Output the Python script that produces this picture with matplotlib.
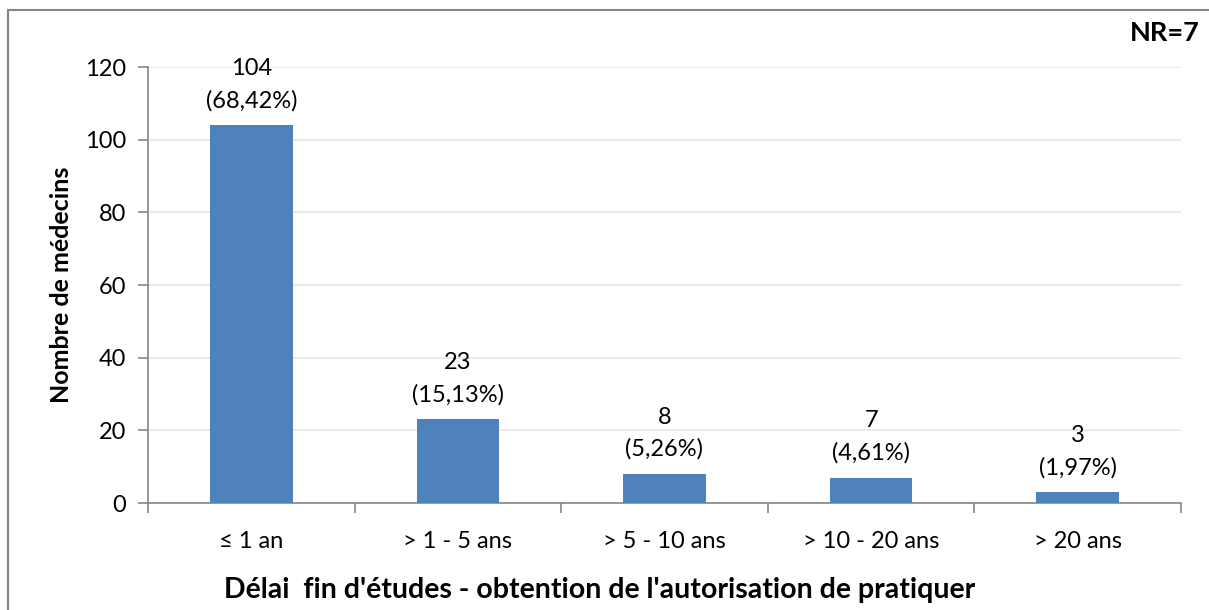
import matplotlib
matplotlib.use("Agg")
import matplotlib.pyplot as plt
from matplotlib.patches import Rectangle

categories = ["≤ 1 an", "> 1 - 5 ans", "> 5 - 10 ans", "> 10 - 20 ans", "> 20 ans"]
counts = [104, 23, 8, 7, 3]
percents = ["68,42%", "15,13%", "5,26%", "4,61%", "1,97%"]
yticks = [0, 20, 40, 60, 80, 100, 120]

FONT = ["Lato", "DejaVu Sans"]
plt.rcParams["font.family"] = FONT

W, H = 1209, 610
fig = plt.figure(figsize=(W / 100, H / 100), dpi=100)
fig.patch.set_facecolor("white")

# outer chart frame
fig.add_artist(Rectangle((8 / W, -0.05), 1.2, (H - 10) / H + 0.05, transform=fig.transFigure,
                         fill=False, edgecolor="#868686", linewidth=1.5))

ax = fig.add_axes([148 / W, (H - 503) / H, (1181 - 148) / W, (503 - 67) / H])
x = list(range(len(categories)))
ax.bar(x, counts, width=0.4, color="#4F81BD", zorder=3)
ax.set_xlim(-0.5, len(categories) - 0.5)
ax.set_ylim(0, 120)
ax.set_yticks(yticks)
ax.set_yticklabels([str(v) for v in yticks], fontsize=17)
ax.yaxis.grid(True, color="#E9E8DC", linewidth=1.2, zorder=0)
ax.set_axisbelow(True)

# x ticks at category boundaries, labels at centres
ax.set_xticks([i - 0.5 for i in range(len(categories) + 1)])
ax.set_xticklabels([])
ax.set_xticks(x, minor=True)
ax.set_xticklabels(categories, minor=True, fontsize=17)
ax.tick_params(axis="x", which="minor", length=0, pad=20)
ax.tick_params(axis="x", which="major", length=7, color="#868686", width=1.2, direction="out")
ax.tick_params(axis="y", length=7, color="#868686", width=1.2, direction="out", pad=9)

for s in ["top", "right"]:
    ax.spines[s].set_visible(False)
for s in ["left", "bottom"]:
    ax.spines[s].set_color("#868686")
    ax.spines[s].set_linewidth(1.2)

for xi, c, p in zip(x, counts, percents):
    ax.annotate(f"{c}\n({p})", (xi, c), xytext=(0, 10), textcoords="offset points",
                ha="center", va="bottom", fontsize=17, linespacing=1.62)

ax.set_ylabel("Nombre de médecins", fontsize=18, fontweight="bold")
ax.yaxis.set_label_coords((73 - 148) / (1181 - 148), 0.5)
fig.text(600 / W, 1 - 590 / H, "Délai  fin d'études - obtention de l'autorisation de pratiquer",
         ha="center", va="center", fontsize=20.5, fontweight="bold")
fig.text(1200 / W, 1 - 33 / H, "NR=7", ha="right", va="center", fontsize=19.5, fontweight="bold")

fig.savefig("out.png", dpi=100, facecolor="white")
